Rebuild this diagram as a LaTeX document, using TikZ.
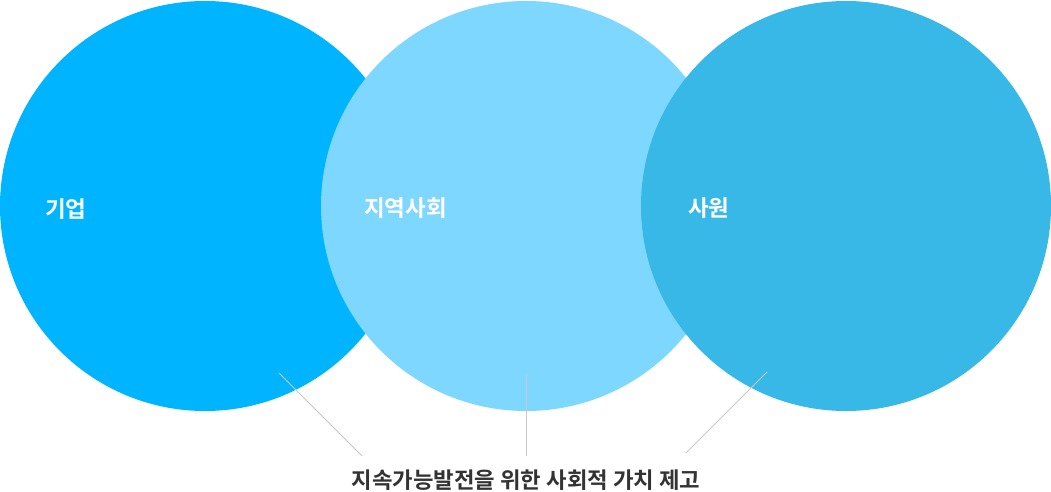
\documentclass[tikz,border=0pt]{standalone}
\usepackage{fontspec}
\newfontfamily\cjk{Noto Sans CJK KR}[BoldFont={Noto Sans CJK KR Bold}]
\definecolor{cA}{RGB}{0,180,255}
\definecolor{cB}{RGB}{125,215,255}
\definecolor{cC}{RGB}{55,184,230}
\definecolor{lineg}{RGB}{200,200,200}
\definecolor{txt}{RGB}{51,51,51}
\begin{document}
\begin{tikzpicture}[x=1pt,y=-1pt,
  circ/.style={circle,minimum size=410pt,inner sep=0pt,draw=none},
  lbl/.style={anchor=west,inner sep=0pt,text=white,font=\cjk\bfseries\fontsize{22.5}{26}\selectfont},
  leader/.style={draw=lineg,line width=0.9pt}]
\useasboundingbox (0,0) rectangle (1051,492);
\node[circ,fill=cA] (c1) at (205,206) {};
\node[circ,fill=cB] (c2) at (526,206) {};
\node[circ,fill=cC] (c3) at (846,206) {};
\node[lbl] (l1) at (45,209) {기업};
\node[lbl] (l2) at (364,208) {지역사회};
\node[lbl] (l3) at (688,208) {사원};
\coordinate (a1) at (279,373);
\coordinate (a2) at (526,374);
\coordinate (a3) at (767,372);
\coordinate (b1) at (362,456);
\coordinate (b2) at (526,456);
\coordinate (b3) at (686,453);
\draw[leader] (a1) -- (b1);
\draw[leader] (a2) -- (b2);
\draw[leader] (a3) -- (b3);
\node[inner sep=0pt,text=txt,font=\cjk\bfseries\fontsize{22.3}{26}\selectfont] (t) at (526,480) {지속가능발전을 위한 사회적 가치 제고};
\end{tikzpicture}
\end{document}
